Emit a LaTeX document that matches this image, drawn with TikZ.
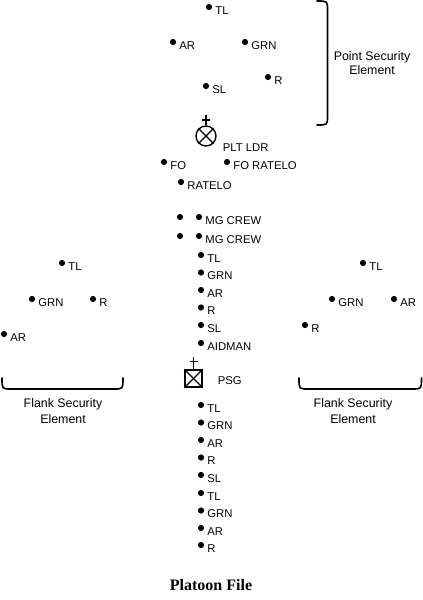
\documentclass[tikz,border=0pt]{standalone}
\usepackage{fontspec}
\setmainfont{Liberation Serif}
\setsansfont{Liberation Sans}
\usepackage{tikz}
\usetikzlibrary{calc}

\tikzset{
  lbl/.style={inner sep=0,font=\sffamily\fontsize{11.3}{13}\selectfont,xshift=2.5pt,yshift=-3.5pt},
  sol/.style={circle,fill=black,inner sep=0,minimum size=6.2pt,label={[lbl]east:#1}},
  txt/.style={font=\sffamily\fontsize{12.4}{#1}\selectfont,align=center,inner sep=0},
  brace/.style={line width=1.6pt,line cap=round},
  sym/.style={line width=1.4pt}
}

\begin{document}
\begin{tikzpicture}[x=1pt,y=-1pt,thick]

\useasboundingbox (0,0) rectangle (423,600);

% point security element
\node[sol=TL] (ptl) at (209,7) {};
\node[sol=AR] (par) at (173,42) {};
\node[sol=GRN] (pgrn) at (245,42) {};
\node[sol=R] (pr) at (268,77) {};
\node[sol=SL] (psl) at (206,86) {};

\draw [brace] (317,1) .. controls (327.5,1) .. (327.5,10) -- (327.5,116) .. controls (327.5,125) .. (317,125);
\node[txt=14] (ptxt) at (372,63.5) {Point Security\\Element};

% platoon leader
\node[circle,draw,sym,minimum size=20pt,inner sep=0] (pl) at (206,136) {};
\draw [sym] (pl.north west) -- (pl.south east);
\draw [sym] (pl.north east) -- (pl.south west);
\draw [sym] (pl.north) -- ++(0,-10);
\draw [sym] ($(pl.north)+(-4,-5.5)$) -- ++(8,0);
\node[lbl,anchor=west,xshift=0pt,yshift=0pt] (pltxt) at (220,144) {PLT LDR};

\node[sol=FO] (fo) at (164,162) {};
\node[sol=FO RATELO] (fort) at (227,162) {};
\node[sol=RATELO] (rto) at (181,182) {};

\node[sol] (mg1) at (180,217) {};
\node[sol=MG CREW] (mg2) at (199,217) {};
\node[sol] (mg3) at (180,236) {};
\node[sol=MG CREW] (mg4) at (199,236) {};

% first squad
\node[sol=TL] (a1) at (201,255) {};
\node[sol=GRN] (a2) at (201,272.5) {};
\node[sol=AR] (a3) at (201,290) {};
\node[sol=R] (a4) at (201,307.5) {};
\node[sol=SL] (a5) at (201,325) {};
\node[sol=AIDMAN] (a6) at (201,343) {};

% platoon sergeant
\node[draw,sym,minimum size=17pt,inner sep=0] (psg) at (193.5,378.5) {};
\draw [sym] (psg.north west) -- (psg.south east);
\draw [sym] (psg.north east) -- (psg.south west);
\draw [sym] (psg.north) -- ++(0,-12);
\draw [sym] ($(psg.north)+(-4,-8)$) -- ++(8,0);
\node[lbl,anchor=west,xshift=0pt,yshift=0pt] (psgtxt) at (215,377) {PSG};

% rear squads
\node[sol=TL] (b1) at (201,405) {};
\node[sol=GRN] (b2) at (201,422.5) {};
\node[sol=AR] (b3) at (201,440) {};
\node[sol=R] (b4) at (201,457.5) {};
\node[sol=SL] (b5) at (201,475) {};
\node[sol=TL] (b6) at (201,493) {};
\node[sol=GRN] (b7) at (201,510.5) {};
\node[sol=AR] (b8) at (201,528) {};
\node[sol=R] (b9) at (201,545) {};

% left flank
\node[sol=TL] (ltl) at (62,263) {};
\node[sol=GRN] (lgrn) at (32,299) {};
\node[sol=R] (lr) at (93,299) {};
\node[sol=AR] (lar) at (4,334) {};

\draw [brace] (2,378) .. controls (2,389) .. (11,389) -- (114,389) .. controls (123,389) .. (123,378);
\node[txt=16] (ltxt) at (63,411) {Flank Security\\Element};

% right flank
\node[sol=TL] (rtl) at (363,263) {};
\node[sol=GRN] (rgrn) at (332,299) {};
\node[sol=AR] (rar) at (394,299) {};
\node[sol=R] (rr) at (305,325) {};

\draw [brace] (299,378) .. controls (299,389) .. (308,389) -- (412,389) .. controls (421.5,389) .. (421.5,378);
\node[txt=16] (rtxt) at (353,411) {Flank Security\\Element};

\node[font=\bfseries\fontsize{16}{19}\selectfont,inner sep=0] (title) at (211,585) {Platoon File};

\end{tikzpicture}
\end{document}
